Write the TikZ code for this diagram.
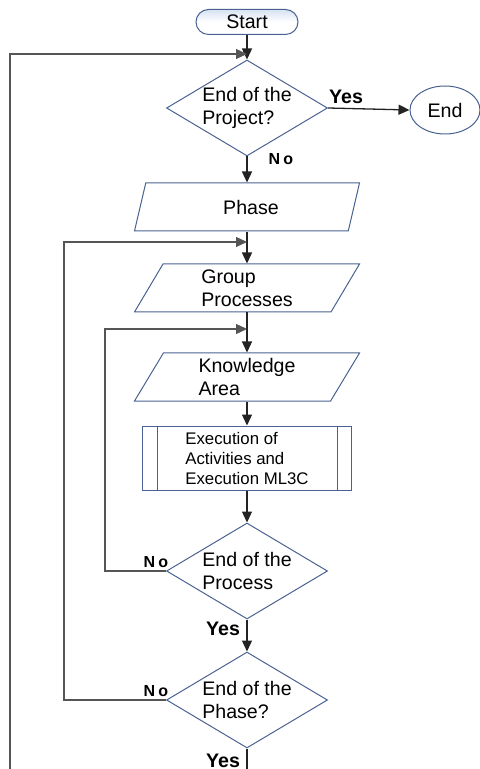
\documentclass[tikz,border=0pt]{standalone}
\usepackage{fontspec}
\setmainfont{Liberation Sans}
\usetikzlibrary{shapes.geometric,arrows.meta}

\definecolor{shapeblue}{RGB}{74,98,145}
\definecolor{startfill}{RGB}{214,226,243}
\definecolor{linegray}{RGB}{35,35,35}
\definecolor{loopgray}{RGB}{85,85,85}

\begin{document}
\begin{tikzpicture}[x=0.5pt, y=-0.5pt,
  font=\fontsize{9.8}{11.3}\selectfont,
  box/.style={draw=shapeblue, line width=0.5pt},
  terminal/.style={box, rounded corners=6.25pt, minimum width=51pt,
    minimum height=12.5pt, inner sep=0pt, top color=startfill, bottom color=white,
    middle color=white},
  decision/.style={box, diamond, shape aspect=1.68, minimum width=80.5pt,
    minimum height=48pt, inner sep=0pt, align=left},
  io/.style={box, trapezium, trapezium left angle=52, trapezium right angle=128,
    trapezium stretches body, minimum width=112.5pt, minimum height=24pt,
    inner sep=0pt, align=left},
  process/.style={box, rectangle, minimum width=104.5pt, minimum height=32pt,
    inner sep=0pt, align=left, font=\fontsize{8.4}{10}\selectfont},
  flow/.style={draw=linegray, line width=0.65pt, -{Triangle[length=5.5pt,width=5pt]}},
  back/.style={draw=loopgray, line width=0.6pt, -{Triangle[length=5.5pt,width=5pt]}},
  yeslabel/.style={font=\fontsize{9.8}{11}\selectfont\bfseries},
  nolabel/.style={font=\fontsize{8}{9}\selectfont\bfseries}]

  \useasboundingbox (0,0) rectangle (479,769);

  % main column
  \node[terminal] (start) at (247,22) {Start};
  \node[decision] (project) at (247,108) {End of the\\Project?};
  \node[box, ellipse, minimum width=35pt, minimum height=24pt, inner sep=0pt]
    (end) at (445,110) {End};
  \node[io] (phase) at (247,207) {\hspace*{4pt}Phase};
  \node[io] (group) at (247,288) {Group\\Processes};
  \node[io] (area) at (247,377) {Knowledge\\Area};
  \node[process] (exec) at (247,458) {Execution of\\Activities and\\Execution ML3C};
  \node[decision] (process) at (247,571) {End of the\\Process};
  \node[decision] (endphase) at (247,700) {End of the\\Phase?};

  % sub-process bars
  \draw[box] ([xshift=7.5pt]exec.north west) -- ([xshift=7.5pt]exec.south west);
  \draw[box] ([xshift=-7.5pt]exec.north east) -- ([xshift=-7.5pt]exec.south east);

  % joins on the main line
  \coordinate (j1) at (247,54);
  \coordinate (j2) at (247,242);
  \coordinate (j3) at (247,329);
  \coordinate (bottom) at (247,769);
  \coordinate (outer) at (10,769);

  \draw[flow] (start.south) -- (project.north);
  \draw[flow] (project.east) -- (end.west);
  \draw[flow] (project.south) -- (project.south |- phase.north);
  \draw[flow] (phase.center |- phase.south) -- (phase.center |- group.north);
  \draw[flow] (group.center |- group.south) -- (group.center |- area.north);
  \draw[flow] (area.center |- area.south) -- (exec.north);
  \draw[flow] (exec.south) -- (process.north);
  \draw[flow] (process.south) -- (endphase.north);
  \draw[draw=linegray, line width=0.65pt] (endphase.south) -- (bottom);

  % loops back
  \draw[back] (outer) |- (j1);
  \draw[back] (endphase.west) -- ++(-102,0) |- (j2);
  \draw[back] (process.west) -- ++(-61,0) |- (j3);

  % labels
  \node[yeslabel] (yes1) at (346,97) {Yes};
  \node[nolabel] (no1) at (281,159) {N\kern1.6pt o};
  \node[nolabel] (no2) at (156,562) {N\kern1.6pt o};
  \node[yeslabel] (yes2) at (223,629) {Yes};
  \node[nolabel] (no3) at (156,691) {N\kern1.6pt o};
  \node[yeslabel] (yes3) at (223,761) {Yes};
\end{tikzpicture}
\end{document}
